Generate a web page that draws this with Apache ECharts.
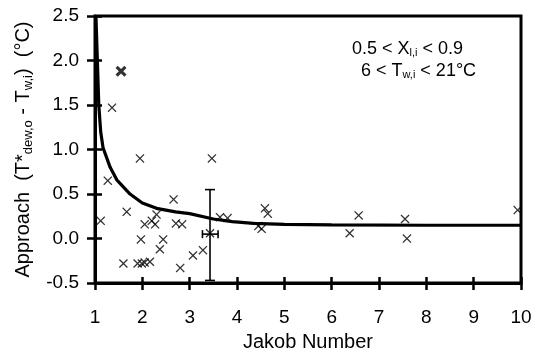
<!DOCTYPE html>
<html>
<head>
<meta charset="utf-8">
<script src="https://cdn.jsdelivr.net/npm/echarts@6/dist/echarts.min.js"></script>
<style>
  html, body { margin: 0; padding: 0; background: #fff; }
  #chart { width: 538px; height: 357px; }
</style>
</head>
<body>
<div id="chart"></div>
<script>
// measured points (Jakob number, approach in degC)
var pointsX = [1.36, 1.27, 1.95, 3.47, 1.12, 1.67, 2.05, 2.2, 2.27, 2.3, 1.97, 2.44, 2.37, 1.6, 1.9, 1.99, 2.05, 2.16,
    2.66, 2.71, 2.84, 2.8, 3.07, 3.28, 3.43, 3.64, 3.8, 4.59, 4.65, 4.45, 4.52, 6.57, 6.38, 7.55, 7.59, 9.93];
var pointsY = [1.47, 0.65, 0.90, 0.90, 0.20, 0.30, 0.16, 0.20, 0.16, 0.27, -0.01, -0.01, -0.12, -0.28, -0.28, -0.28, -0.27, -0.26,
    0.44, 0.17, 0.16, -0.33, -0.19, -0.13, 0.06, 0.24, 0.23, 0.34, 0.28, 0.14, 0.11, 0.26, 0.06, 0.22, 0.0, 0.32];
// the one heavier marker
var boldX = [1.55];
var boldY = [1.88];
// model curve
var curveX = [1.02, 1.05, 1.08, 1.12, 1.17, 1.32, 1.46, 1.74, 2.0, 2.3, 2.7, 3.0, 3.5, 3.9, 4.35, 5, 6, 8, 10];
var curveY = [2.5, 2.0, 1.5, 1.2, 1.02, 0.8, 0.66, 0.5, 0.4, 0.34, 0.3, 0.28, 0.22, 0.19, 0.17, 0.16, 0.155, 0.15, 0.15];
// error bar: [x, y, xLow, xHigh, yLow, yHigh]
var errBar = [3.43, 0.05, 3.27, 3.6, -0.47, 0.55];

var xTicks = ['1', '2', '3', '4', '5', '6', '7', '8', '9', '10'];
var yTicks = ['-0.5', '0.0', '0.5', '1.0', '1.5', '2.0', '2.5'];

function zip(a, b) {
    return a.map(function (v, i) { return [v, b[i]]; });
}

var crossPath = 'path://M0,1L1,0L5,4L9,0L10,1L6,5L10,9L9,10L5,6L1,10L0,9L4,5Z';
var boldCross = 'path://M0,2L2,0L5,3L8,0L10,2L7,5L10,8L8,10L5,7L2,10L0,8L3,5Z';
var font = 'Liberation Sans';

var chart = echarts.init(document.getElementById('chart'));
chart.setOption({
    animation: false,
    backgroundColor: '#fff',
    textStyle: {fontFamily: font, color: '#000'},
    grid: {
        left: 95, right: 17, top: 16, bottom: 71,
        show: true, borderColor: '#000', borderWidth: 3
    },
    xAxis: [
        {
            type: 'value', min: 1, max: 10, interval: 1,
            name: 'Jakob Number', nameLocation: 'middle', nameGap: 45,
            nameTextStyle: {fontSize: 20, color: '#000', fontFamily: font},
            axisLine: {onZero: false, lineStyle: {color: '#000', width: 3}},
            axisTick: {length: 7, lineStyle: {color: '#000', width: 2.5}},
            axisLabel: {
                margin: 25, fontSize: 19, color: '#000',
                formatter: function (v) { return xTicks[Math.round(v) - 1]; }
            },
            splitLine: {show: false}
        },
        {
            type: 'value', min: 1, max: 10, interval: 1, position: 'bottom',
            axisLine: {show: false, onZero: false},
            axisTick: {inside: true, length: 6, lineStyle: {color: '#000', width: 2.5}},
            axisLabel: {show: false},
            splitLine: {show: false}
        }
    ],
    yAxis: [
        {
            type: 'value', min: -0.5, max: 2.5, interval: 0.5,
            name: 'Approach  (T*{sub|dew,o} - T{sub|w,i})  (°C)',
            nameLocation: 'middle', nameGap: 57, nameRotate: 90,
            nameTextStyle: {
                fontSize: 20, color: '#000', fontFamily: font, lineHeight: 24,
                rich: {
                    sub: {fontSize: 13, lineHeight: 14, verticalAlign: 'bottom', fontFamily: font, color: '#000'}
                }
            },
            axisLine: {onZero: false, lineStyle: {color: '#000', width: 3}},
            axisTick: {length: 8, lineStyle: {color: '#000', width: 2.5}},
            axisLabel: {
                margin: 16, fontSize: 19, color: '#000',
                formatter: function (v) { return yTicks[Math.round((v + 0.5) * 2)]; }
            },
            splitLine: {show: false}
        },
        {
            type: 'value', min: -0.5, max: 2.5, interval: 0.5, position: 'left',
            axisLine: {show: false, onZero: false},
            axisTick: {inside: true, length: 7, lineStyle: {color: '#000', width: 2.5}},
            axisLabel: {show: false},
            splitLine: {show: false}
        }
    ],
    graphic: [
        {
            type: 'text', left: 352, top: 40,
            style: {
                text: '0.5 < X{sub|l,i} < 0.9',
                font: '18px ' + font, fill: '#000',
                rich: {sub: {fontSize: 11, lineHeight: 12, verticalAlign: 'bottom', fill: '#000', fontFamily: font}}
            }
        },
        {
            type: 'text', left: 361, top: 62,
            style: {
                text: '6 < T{sub|w,i} < 21°C',
                font: '18px ' + font, fill: '#000',
                rich: {sub: {fontSize: 11, lineHeight: 12, verticalAlign: 'bottom', fill: '#000', fontFamily: font}}
            }
        }
    ],
    series: [
        {
            type: 'line',
            data: zip(curveX, curveY),
            showSymbol: false,
            lineStyle: {color: '#000', width: 3.2},
            z: 3
        },
        {
            type: 'scatter',
            data: zip(pointsX, pointsY),
            symbol: crossPath,
            symbolSize: 9,
            itemStyle: {color: '#000'},
            z: 4
        },
        {
            type: 'scatter',
            data: zip(boldX, boldY),
            symbol: boldCross,
            symbolSize: 11,
            itemStyle: {color: '#000'},
            z: 4
        },
        {
            type: 'custom',
            data: [errBar],
            renderItem: function (params, api) {
                var c = api.coord([api.value(0), api.value(1)]);
                var lo = api.coord([api.value(0), api.value(4)]);
                var hi = api.coord([api.value(0), api.value(5)]);
                var xl = api.coord([api.value(2), api.value(1)]);
                var xh = api.coord([api.value(3), api.value(1)]);
                var st = {stroke: '#000', lineWidth: 1.6};
                var cap = 5;
                return {
                    type: 'group',
                    children: [
                        {type: 'line', shape: {x1: lo[0], y1: lo[1], x2: hi[0], y2: hi[1]}, style: st},
                        {type: 'line', shape: {x1: lo[0] - cap, y1: lo[1], x2: lo[0] + cap, y2: lo[1]}, style: st},
                        {type: 'line', shape: {x1: hi[0] - cap, y1: hi[1], x2: hi[0] + cap, y2: hi[1]}, style: st},
                        {type: 'line', shape: {x1: xl[0], y1: c[1], x2: xh[0], y2: c[1]}, style: st},
                        {type: 'line', shape: {x1: xl[0], y1: c[1] - 4, x2: xl[0], y2: c[1] + 4}, style: st},
                        {type: 'line', shape: {x1: xh[0], y1: c[1] - 4, x2: xh[0], y2: c[1] + 4}, style: st}
                    ]
                };
            },
            z: 5
        }
    ]
});
</script>
</body>
</html>
